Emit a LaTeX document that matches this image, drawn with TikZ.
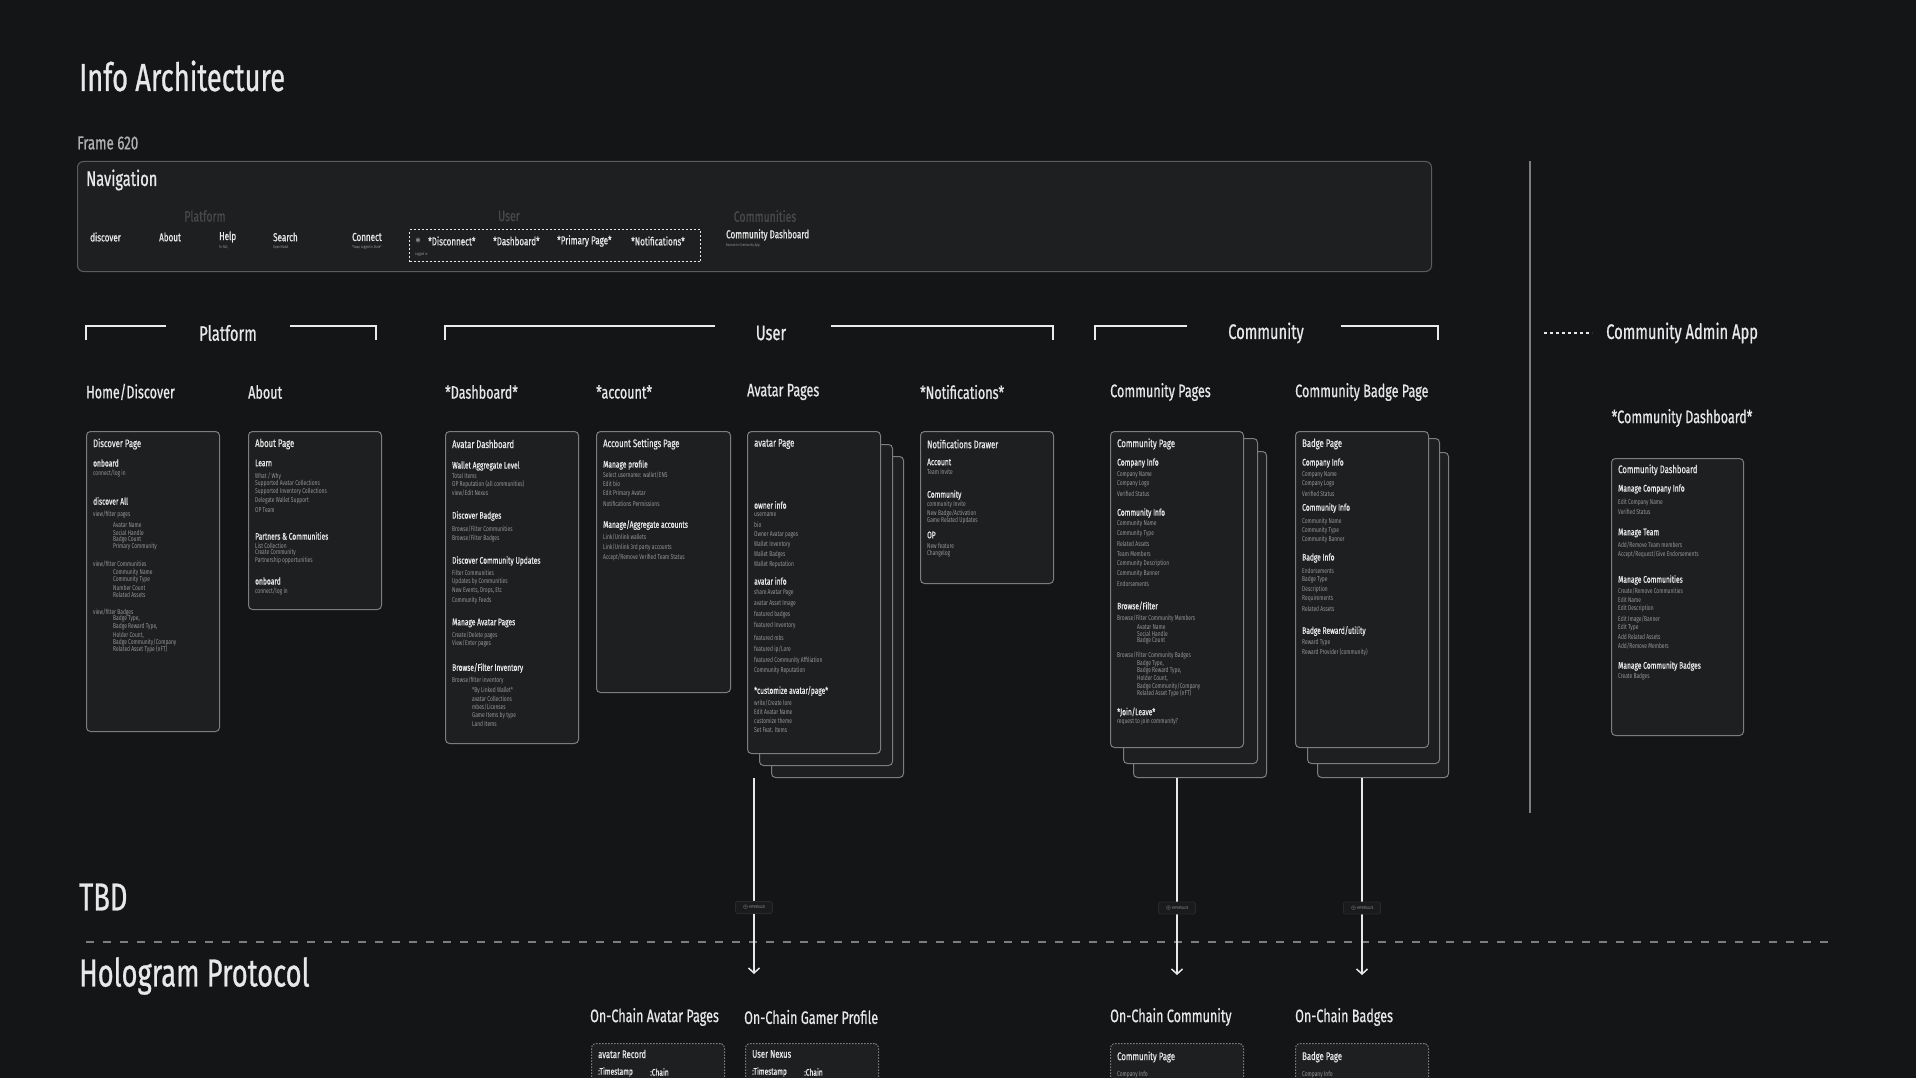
\documentclass[tikz,border=0pt]{standalone}
\usepackage{fontspec}
\setmainfont{Fira Sans}[FakeStretch=0.7]
\newfontfamily\medfont{Fira Sans}[FakeStretch=0.7, FakeBold=0.7]
\usetikzlibrary{arrows.meta,positioning,calc}
\definecolor{bgdark}{RGB}{20,21,23}
\definecolor{cardfill}{RGB}{30,31,33}
\definecolor{cardline}{RGB}{125,125,127}
\definecolor{navline}{RGB}{92,92,94}
\definecolor{hitext}{RGB}{232,232,232}
\definecolor{lotext}{RGB}{150,150,152}
\definecolor{dimtext}{RGB}{72,73,75}
\definecolor{tagfill}{RGB}{26,27,29}
\definecolor{tagline}{RGB}{40,41,43}
\newcommand{\pxfont}[1]{\fontsize{#1}{#1}\selectfont}
% one line of text per entry: style/y/text
\newcommand{\cardtext}[3]{%
  \foreach \s/\y/\t [count=\i] in {#3}
    \node[\s] (#1-\i) at (#2,\y) {\t};}

\begin{document}
\begin{tikzpicture}[x=1pt,y=-1pt,
    every node/.style={inner sep=0pt, text=hitext},
    card/.style={draw=cardline, fill=cardfill, rounded corners=4, line width=1, anchor=north west},
    chaincard/.style={card, dash pattern=on 1.5 off 1.5},
    ctitle/.style={anchor=west, font=\medfont\pxfont{11}},
    chead/.style={anchor=west, font=\medfont\pxfont{9.5}},
    citem/.style={anchor=west, font=\pxfont{7}, text=lotext},
    csub/.style={citem, xshift=20},
    navitem/.style={anchor=west, font=\medfont\pxfont{11.5}},
    navsub/.style={anchor=west, font=\pxfont{4}, text=lotext},
    grp/.style={font=\medfont\pxfont{15}, text=dimtext},
    bigtitle/.style={anchor=west, font=\medfont\pxfont{39}},
    colhead/.style={anchor=west, font=\medfont\pxfont{18}},
    seclabel/.style={font=\medfont\pxfont{21}},
    brk/.style={draw=hitext!85, line width=2},
    flow/.style={draw=hitext, line width=1.5, -{Straight Barb[length=5pt,width=11pt]}},
    hyper/.style={fill=tagfill, draw=tagline, line width=0.8, rounded corners=1.5, minimum width=37, minimum height=12, font=\pxfont{4}, text=lotext}]

    \fill[bgdark] (0,0) rectangle (1916,1078);
    \clip (0,0) rectangle (1916,1078);

    % titles
    \node[bigtitle] (title) at (79,76) {Info Architecture};
    \node[anchor=west, font=\medfont\pxfont{19}, text=lotext!75] (frame) at (77,143) {Frame 620};
    \node[bigtitle] (tbd) at (79,897) {TBD};
    \node[bigtitle] (holo) at (79,976) {Hologram Protocol};

    % navigation bar
    \node[card, draw=navline, rounded corners=6, minimum width=1354, minimum height=110] (nav) at (77,161) {};
    \node[anchor=west, font=\medfont\pxfont{21}] (navtitle) at (86,180) {Navigation};
    \foreach \x/\t [count=\i] in {205/Platform, 509/User, 765/Communities}
        \node[grp] (grp-\i) at (\x,216) {\t};
    \foreach \x/\t [count=\i] in {90/discover, 159/About, 219/Help, 273/Search, 352/Connect}
        \node[navitem] (nav-\i) at (\x,237) {\t};
    \foreach \x/\t [count=\i] in {219/{To FAQ}, 273/{Open Modal}, 352/{*Swap Logged in State*}}
        \node[navsub] (navs-\i) at (\x,247) {\t};
    \node[draw=hitext, line width=1.2, dash pattern=on 2 off 2, anchor=north west,
          minimum width=291, minimum height=32] (usrbox) at (409,229) {};
    \node[navitem] (star) at (415,241) {$\ast$};
    \foreach \x/\t [count=\i] in {428/*Disconnect*, 493/*Dashboard*, 557/{*Primary Page*}, 631/*Notifications*}
        \node[navitem] (usr-\i) at (\x,241) {\t};
    \node[navsub] (logged) at (415,254) {Logged in};
    \node[navitem] (cdnav) at (726,235) {Community Dashboard};
    \node[navsub] (cdnavs) at (726,245) {Bounce to Community App};

    % section brackets
    \foreach \a/\b/\c/\d in {86/166/290/376, 445/715/831/1053, 1095/1187/1341/1438} {
        \draw[brk] (\a,340) |- (\b,326);
        \draw[brk] (\c,326) -| (\d,340);
    }
    \foreach \x/\t [count=\i] in {228/Platform, 771/User, 1266/Community}
        \node[seclabel] (sec-\i) at (\x,333) {\t};
    \draw[draw=cardline, line width=1.5] (1530,161) -- (1530,813);
    \draw[draw=hitext, line width=2, dash pattern=on 3 off 3] (1544,333) -- (1592,333);
    \node[anchor=west, font=\medfont\pxfont{21}] (admin) at (1606,333) {Community Admin App};

    % column headers
    \foreach \x/\t [count=\i] in {86/{Home/Discover}, 248/About, 445/*Dashboard*, 596/*account*, 747/{Avatar Pages},
        920/*Notifications*, 1110/{Community Pages}, 1295/{Community Badge Page}}
        \node[colhead] (col-\i) at (\x,392) {\t};
    \node[font=\medfont\pxfont{18}] (col-admin) at (1682,418) {*Community Dashboard*};

    % cards (stacks back to front)
    \foreach \n/\x/\y/\w/\h in {avp-c/771/456/132/321, avp-b/759/444/133/321,
        cmp-c/1133/451/133/326, cmp-b/1123/438/134/325,
        bdg-c/1317/452/131/325, bdg-b/1307/438/132/325,
        disc/86/431/133/300, abt/248/431/133/178, adash/445/431/133/312, acct/596/431/134/261,
        avp/747/431/133/322, notif/920/431/133/152, cmp/1110/431/133/316, bdg/1295/431/133/316,
        cdash/1611/458/132/277}
        \node[card, minimum width=\w, minimum height=\h] (\n) at (\x,\y) {};

    \cardtext{disc}{93}{ctitle/444/{Discover Page}, chead/463/onboard, citem/473/{connect/log in},
        chead/501/{discover All}, citem/514/{view/filter pages},
        csub/525/{Avatar Name}, csub/533/{Social Handle}, csub/540/{Badge Count}, csub/547/{Primary Community},
        citem/564/{view/filter Communities},
        csub/573/{Community Name}, csub/580/{Community Type}, csub/588/{Number Count}, csub/595/{Related Assets},
        citem/612/{view/filter Badges},
        csub/619/{Badge Type,}, csub/627/{Badge Reward Type,}, csub/635/{Holder Count,},
        csub/642/{Badge Community/Company}, csub/649/{Related Asset Type (nFT)}}
    \cardtext{abt}{255}{ctitle/444/{About Page}, chead/463/Learn, citem/476/{What / Why},
        citem/484/{Supported Avatar Collections}, citem/492/{Supported Inventory Collections},
        citem/501/{Delegate Wallet Support}, citem/510/{OP Team},
        chead/536/{Partners \& Communities}, citem/546/{List Collection}, citem/553/{Create Community},
        citem/561/{Partnership opportunities}, chead/581/onboard, citem/591/{connect/log in}}
    \cardtext{adash}{452}{ctitle/444/{Avatar Dashboard}, chead/466/{Wallet Aggregate Level},
        citem/476/{Total Items}, citem/484/{OP Reputation (all communities)}, citem/493/{view/Edit Nexus},
        chead/516/{Discover Badges}, citem/529/{Browse/Filter Communities}, citem/538/{Browse/Filter Badges},
        chead/561/{Discover Community Updates}, citem/573/{Filter Communities}, citem/582/{Updates by Communities},
        citem/591/{New Events, Drops, Etc}, citem/601/{Community Feeds},
        chead/623/{Manage Avatar Pages}, citem/635/{Create/Delete pages}, citem/643/{View/Enter pages},
        chead/668/{Browse/Filter Inventory}, citem/680/{Browse/filter inventory},
        csub/691/{*By Linked Wallet*}, csub/699/{avatar Collections}, csub/707/{mbes/Licenses},
        csub/716/{Game Items by type}, csub/724/{Land Items}}
    \cardtext{acct}{603}{ctitle/444/{Account Settings Page}, chead/465/{Manage profile},
        citem/475/{Select username: wallet/ENS}, citem/484/{Edit bio}, citem/494/{Edit Primary Avatar},
        citem/504/{Notifications Permissions}, chead/525/{Manage/Aggregate accounts},
        citem/537/{Link/Unlink wallets}, citem/547/{Link/Unlink 3rd party accounts},
        citem/557/{Accept/Remove Verified Team Status}}
    \cardtext{avp}{754}{ctitle/444/{avatar Page}, chead/505/{owner info}, citem/515/username, citem/525/bio,
        citem/535/{Owner Avatar pages}, citem/545/{Wallet Inventory}, citem/555/{Wallet Badges},
        citem/565/{Wallet Reputation}, chead/581/{avatar info}, citem/593/{share Avatar Page},
        citem/604/{avatar Asset Image}, citem/615/{featured badges}, citem/626/{featured Inventory},
        citem/638/{featured mbs}, citem/649/{featured ip/Lore}, citem/661/{featured Community Affiliation},
        citem/671/{Community Reputation}, chead/691/{*customize avatar/page*}, citem/703/{write/Create lore},
        citem/712/{Edit Avatar Name}, citem/721/{customize theme}, citem/730/{Set Feat. Items}}
    \cardtext{notif}{927}{ctitle/444/{Notifications Drawer}, chead/462/Account, citem/472/{Team Invite},
        chead/495/Community, citem/505/{community Invite}, citem/513/{New Badge/Activation},
        citem/521/{Game Related Updates}, chead/535/OP, citem/546/{New feature}, citem/554/Changelog}
    \cardtext{cmp}{1117}{ctitle/444/{Community Page}, chead/463/{Company Info}, citem/475/{Company Name},
        citem/484/{Company Logo}, citem/494/{Verified Status}, chead/513/{Community Info},
        citem/524/{Community Name}, citem/534/{Community Type}, citem/544/{Related Assets},
        citem/554/{Team Members}, citem/564/{Community Description}, citem/574/{Community Banner},
        citem/584/Endorsements, chead/606/{Browse/Filter}, citem/618/{Browse/Filter Community Members},
        csub/627/{Avatar Name}, csub/634/{Social Handle}, csub/641/{Badge Count},
        citem/655/{Browse/Filter Community Badges}, csub/664/{Badge Type,}, csub/671/{Badge Reward Type,},
        csub/678/{Holder Count,}, csub/686/{Badge Community/Company}, csub/693/{Related Asset Type (nFT)},
        chead/712/{*Join/Leave*}, citem/722/{request to join community?}}
    \cardtext{bdg}{1302}{ctitle/444/{Badge Page}, chead/463/{Company Info}, citem/475/{Company Name},
        citem/484/{Company Logo}, citem/494/{Verified Status}, chead/508/{Community Info},
        citem/522/{Community Name}, citem/531/{Community Type}, citem/540/{Community Banner},
        chead/558/{Badge Info}, citem/571/Endorsements, citem/580/{Badge Type}, citem/590/Description,
        citem/599/Requirements, citem/609/{Related Assets}, chead/631/{Badge Reward/utility},
        citem/643/{Reward Type}, citem/652/{Reward Provider (community)}}
    \cardtext{cdash}{1618}{ctitle/470/{Community Dashboard}, chead/489/{Manage Company Info},
        citem/503/{Edit Company Name}, citem/512/{Verified Status}, chead/533/{Manage Team},
        citem/545/{Add/Remove Team members}, citem/554/{Accept/Request/Give Endorsements},
        chead/580/{Manage Communities}, citem/591/{Create/Remove Communities}, citem/600/{Edit Name},
        citem/609/{Edit Description}, citem/619/{Edit Image/Banner}, citem/628/{Edit Type},
        citem/637/{Add Related Assets}, citem/646/{Add/Remove Members},
        chead/666/{Manage Community Badges}, citem/677/{Create Badges}}

    % TBD / protocol split
    \draw[draw=cardline, line width=1.5, dash pattern=on 8 off 9] (86,942) -- (1836,942);

    % on-chain side
    \foreach \x/\t [count=\i] in {590/{On-Chain Avatar Pages}, 744/{On-Chain Gamer Profile},
        1110/{On-Chain Community}, 1295/{On-Chain Badges}}
        \node[colhead] (och-\i) at (\x,1017) {\t};
    \foreach \n/\x in {ocav/591, ocgp/745, occm/1110, ocbd/1295}
        \node[chaincard, minimum width=133, minimum height=70] (\n) at (\x,1043) {};
    \cardtext{ocav}{598}{ctitle/1054/{avatar Record}, chead/1072/{:Timestamp}}
    \cardtext{ocgp}{752}{ctitle/1054/{User Nexus}, chead/1072/{:Timestamp}}
    \node[chead] (ocav-c) at (650,1072) {:Chain};
    \node[chead] (ocgp-c) at (804,1072) {:Chain};
    \cardtext{occm}{1117}{ctitle/1057/{Community Page}, citem/1075/{Company Info}}
    \cardtext{ocbd}{1302}{ctitle/1057/{Badge Page}, citem/1075/{Company Info}}

    % connectors
    \coordinate (avp-tap) at (754,778);
    \coordinate (ocav-in) at (754,974);
    \path (cmp.south) ++(0,227) coordinate (occm-in);
    \path (bdg.south) ++(0,227) coordinate (ocbd-in);
    \draw[flow] (avp-tap) -- node[hyper, pos=0.66] (hy-1) {$\oplus$ HYPERTALIZE} (ocav-in);
    \draw[flow] (cmp.south |- cmp-c.south) -- node[hyper, pos=0.66] (hy-2) {$\oplus$ HYPERTALIZE} (occm-in);
    \draw[flow] (bdg.south |- bdg-c.south) -- node[hyper, pos=0.66] (hy-3) {$\oplus$ HYPERTALIZE} (ocbd-in);
\end{tikzpicture}
\end{document}
